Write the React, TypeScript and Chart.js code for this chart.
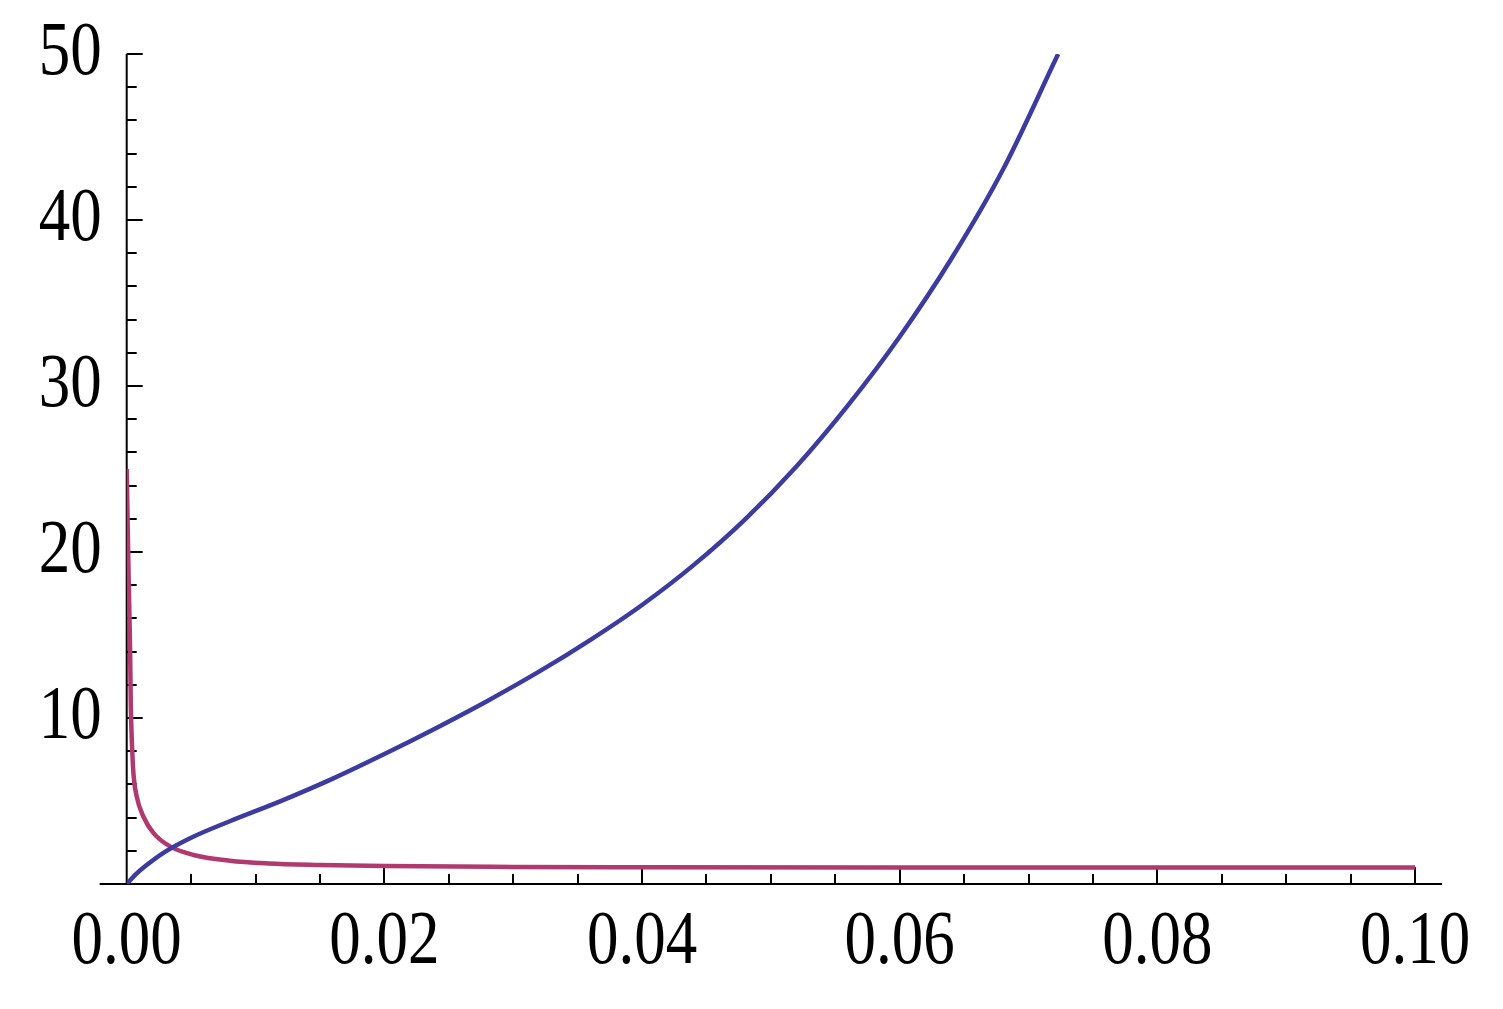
import React, { useEffect, useRef } from "react";
import { Chart, registerables } from "chart.js";

Chart.register(...registerables);

// Blue curve (x, y)
const blueX = [0, 0.0007, 0.0015, 0.003, 0.005, 0.008, 0.012, 0.016, 0.02, 0.024, 0.028, 0.032, 0.036, 0.04, 0.044, 0.048, 0.052, 0.056, 0.06, 0.064, 0.068, 0.0723];
const blueY = [0, 0.58, 1.11, 1.95, 2.79, 3.78, 5.01, 6.35, 7.83, 9.39, 11.03, 12.79, 14.71, 16.81, 19.21, 21.97, 25.17, 28.85, 32.97, 37.65, 43.01, 50];

// Red curve (x, y)
const redX = [0, 0.00015, 0.00026, 0.00032, 0.0004, 0.00052, 0.00078, 0.0013, 0.0021, 0.0034, 0.0052, 0.008, 0.011, 0.015, 0.02, 0.03, 0.04, 0.06, 0.1];
const redY = [25, 18.5, 14.3, 10.7, 8.6, 6.7, 5.26, 4.05, 3.05, 2.25, 1.75, 1.4, 1.24, 1.15, 1.08, 1.03, 1.01, 1.0, 1.0];

// Tick labels
const xTickValues = [0, 0.02, 0.04, 0.06, 0.08, 0.1];
const yTickValues = [10, 20, 30, 40, 50];

const LABEL_STRETCH = 1.22;
const FONT = { family: "'Liberation Serif', 'Times New Roman', serif", size: 63 };

// Draw the scale's own tick labels, slightly stretched vertically like the original.
function stretchedDrawLabels(this: any, chartArea: any) {
  const ctx = this.ctx;
  const items = this.getLabelItems(chartArea);
  for (const item of items) {
    const o = item.options;
    ctx.save();
    ctx.translate(o.translation[0], o.translation[1] + item.textOffset);
    ctx.scale(1, LABEL_STRETCH);
    ctx.font = item.font.string;
    ctx.fillStyle = o.color;
    ctx.textAlign = o.textAlign;
    ctx.textBaseline = o.textBaseline;
    ctx.fillText(String(item.label), 0, 0);
    ctx.restore();
  }
}

const axesPlugin = {
  id: "mmaAxes",
  beforeDatasetsDraw(chart: any) {
    const ctx = chart.ctx;
    const xs = chart.scales.x;
    const ys = chart.scales.y;
    const y0 = ys.getPixelForValue(0);
    const x0 = xs.getPixelForValue(0);
    ctx.save();
    ctx.strokeStyle = "#000";
    ctx.lineWidth = 2;
    ctx.lineCap = "butt";
    ctx.beginPath();
    ctx.moveTo(xs.getPixelForValue(-0.0021), y0);
    ctx.lineTo(xs.getPixelForValue(0.1021), y0);
    ctx.moveTo(x0, y0);
    ctx.lineTo(x0, ys.getPixelForValue(50));
    for (let i = 1; i <= 20; i++) {
      const px = Math.round(xs.getPixelForValue(i * 0.005));
      const len = i % 4 === 0 ? 17 : 10;
      ctx.moveTo(px, y0);
      ctx.lineTo(px, y0 - len);
    }
    for (let i = 1; i <= 25; i++) {
      const py = Math.round(ys.getPixelForValue(i * 2));
      const len = i % 5 === 0 ? 16 : 10;
      ctx.moveTo(x0, py);
      ctx.lineTo(x0 + len, py);
    }
    ctx.stroke();
    ctx.restore();
  },
};

export default function App() {
  const ref = useRef<HTMLCanvasElement | null>(null);
  useEffect(() => {
    if (!ref.current) return;
    const chart = new Chart(ref.current, {
      type: "line",
      data: {
        datasets: [
          {
            label: "blue",
            data: blueX.map((x, i) => ({ x, y: blueY[i] })),
            borderColor: "#3c3ca0",
            borderWidth: 4.5,
            pointRadius: 0,
            cubicInterpolationMode: "monotone",
            fill: false,
          },
          {
            label: "red",
            data: redX.map((x, i) => ({ x, y: redY[i] })),
            borderColor: "#b03a70",
            borderWidth: 4.5,
            pointRadius: 0,
            cubicInterpolationMode: "monotone",
            fill: false,
          },
        ],
      },
      options: {
        animation: false,
        responsive: false,
        devicePixelRatio: 1,
        layout: { padding: { top: 54, right: 88, left: 0, bottom: 0 } },
        plugins: { legend: { display: false }, tooltip: { enabled: false } },
        scales: {
          x: {
            type: "linear",
            min: 0,
            max: 0.1,
            grid: { display: false, drawTicks: false },
            border: { display: false },
            afterBuildTicks: (s: any) => {
              s.ticks = xTickValues.map((v) => ({ value: v }));
            },
            afterFit: (s: any) => {
              s.height = 125;
              s.paddingLeft = 0;
              s.paddingRight = 0;
              s.drawLabels = stretchedDrawLabels;
            },
            ticks: {
              autoSkip: false,
              maxRotation: 0,
              padding: 21,
              color: "#000",
              font: FONT,
              callback: (v: any) => Number(v).toFixed(2),
            },
          },
          y: {
            type: "linear",
            min: 0,
            max: 50,
            grid: { display: false, drawTicks: false },
            border: { display: false },
            afterBuildTicks: (s: any) => {
              s.ticks = yTickValues.map((v) => ({ value: v }));
            },
            afterFit: (s: any) => {
              s.width = 126.7;
              s.paddingTop = 0;
              s.paddingBottom = 0;
              s.drawLabels = stretchedDrawLabels;
            },
            ticks: {
              autoSkip: false,
              padding: 25,
              color: "#000",
              font: FONT,
              callback: (v: any) => String(v),
            },
          },
        },
      },
      plugins: [axesPlugin],
    } as any);
    return () => chart.destroy();
  }, []);
  return (
    <div style={{ position: "absolute", left: 0, top: 0, width: 1503, height: 1009, background: "#fff" }}>
      <canvas ref={ref} width={1503} height={1009} />
    </div>
  );
}
